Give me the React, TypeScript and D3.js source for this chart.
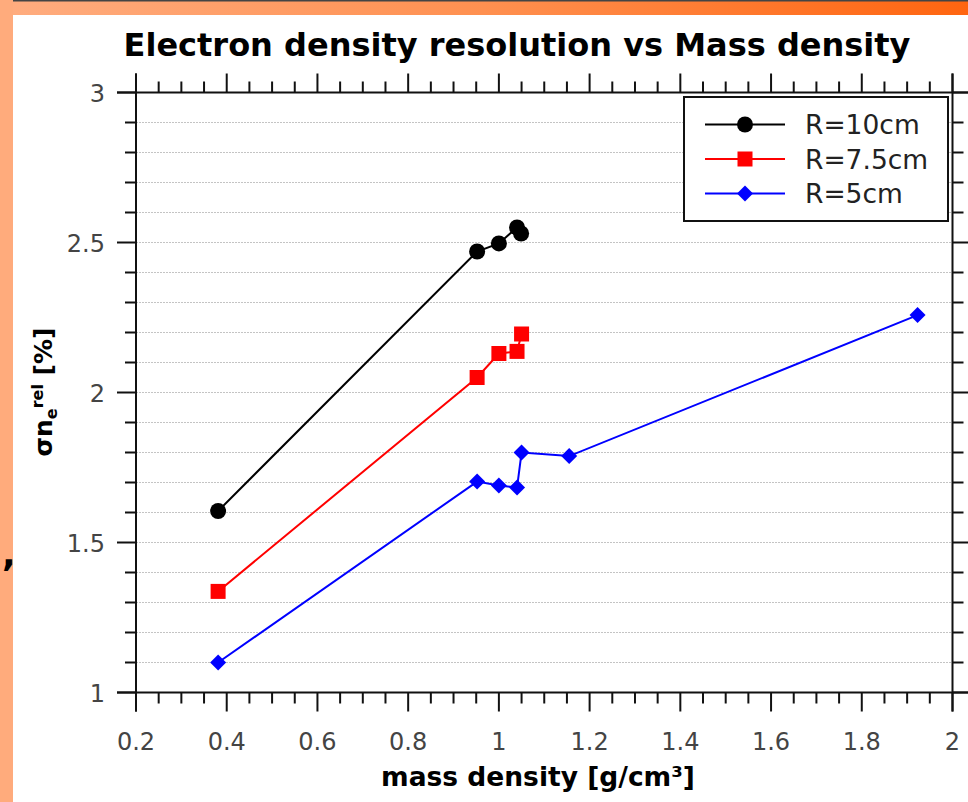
import React from "react";
import * as d3 from "d3";

const massDensity10 = [0.381, 0.952, 1.0, 1.04, 1.049];
const sigma10 = [1.605, 2.47, 2.497, 2.55, 2.53];

const massDensity75 = [0.381, 0.952, 1.0, 1.04, 1.05];
const sigma75 = [1.337, 2.05, 2.13, 2.137, 2.195];

const massDensity5 = [0.381, 0.952, 1.0, 1.04, 1.05, 1.155, 1.923];
const sigma5 = [1.1, 1.703, 1.69, 1.683, 1.8, 1.788, 2.258];

const seriesNames = ["R=10cm", "R=7.5cm", "R=5cm"];
const seriesColors = ["#000000", "#ff0000", "#0000ff"];
const seriesMarkers = ["circle", "square", "diamond"];

const xMajorTicks = [0.2, 0.4, 0.6, 0.8, 1, 1.2, 1.4, 1.6, 1.8, 2];
const yMajorTicks = [1, 1.5, 2, 2.5, 3];
const xTickLabels = ["0.2", "0.4", "0.6", "0.8", "1", "1.2", "1.4", "1.6", "1.8", "2"];
const yTickLabels = ["1", "1.5", "2", "2.5", "3"];

const W = 968;
const H = 802;
const FONT = "'DejaVu Sans', sans-serif";

function Marker({ type, x, y, color }: { type: string; x: number; y: number; color: string }) {
  if (type === "circle") return <circle cx={x} cy={y} r={8} fill={color} />;
  if (type === "square") return <rect x={x - 7.5} y={y - 7.5} width={15} height={15} fill={color} />;
  const s = 8;
  return <path d={`M${x},${y - s}L${x + s},${y}L${x},${y + s}L${x - s},${y}Z`} fill={color} />;
}

export default function App() {
  const x = d3.scaleLinear().domain([0.2, 2]).range([136, 952.5]);
  const y = d3.scaleLinear().domain([1, 3]).range([692.5, 92.5]);

  const xMinor = d3.range(0, 37).map((i) => 0.2 + i * 0.05).filter((v) => Math.abs(Math.round(v * 5) - v * 5) > 1e-6);
  const yMinor = d3.range(0, 21).map((i) => 1 + i * 0.1).filter((v) => Math.abs(Math.round(v * 2) - v * 2) > 1e-6);
  const gridY = d3.range(1, 20).map((i) => 1 + i * 0.1);

  const series = [
    { xs: massDensity10, ys: sigma10 },
    { xs: massDensity75, ys: sigma75 },
    { xs: massDensity5, ys: sigma5 },
  ];
  const line = d3
    .line<[number, number]>()
    .x((d) => x(d[0]))
    .y((d) => y(d[1]));

  const axisColor = "#111";
  const left = x(0.2);
  const right = x(2);
  const top = y(3);
  const bottom = y(1);

  return (
    <svg
      width={W}
      height={H}
      style={{ position: "absolute", left: 0, top: 0, background: "#fff" }}
      fontFamily={FONT}
    >
      <defs>
        <linearGradient id="topbar" x1="0" x2="1" y1="0" y2="0">
          <stop offset="0" stopColor="#ffad80" />
          <stop offset="0.5" stopColor="#ff9050" />
          <stop offset="1" stopColor="#ff6510" />
        </linearGradient>
      </defs>
      <rect x={0} y={0} width={W} height={H} fill="#fff" />
      <rect x={0} y={0} width={W} height={15} fill="url(#topbar)" />
      <rect x={0} y={0} width={W} height={1.5} fill="#444" />
      <rect x={0} y={0} width={13} height={H} fill="#ffab7c" />
      <text x={2} y={566} fontSize={36} fontWeight="bold" fill="#000">,</text>

      {/* title */}
      <text x={517} y={56} textAnchor="middle" fontSize={32} fontWeight="bold" fill="#000">
        Electron density resolution vs Mass density
      </text>

      {/* grid */}
      {gridY.map((v, i) => (
        <line key={"g" + i} x1={left} x2={right} y1={y(v)} y2={y(v)} stroke="#c4c4c4" strokeWidth={1} strokeDasharray="2,1" />
      ))}

      {/* axes frame */}
      <line x1={left - 19} x2={right + 19} y1={top} y2={top} stroke={axisColor} strokeWidth={2} />
      <line x1={left - 19} x2={right + 19} y1={bottom} y2={bottom} stroke={axisColor} strokeWidth={2} />
      <line x1={left} x2={left} y1={top - 19} y2={bottom + 19} stroke={axisColor} strokeWidth={2} />
      <line x1={right} x2={right} y1={top - 19} y2={bottom + 19} stroke={axisColor} strokeWidth={2} />

      {/* x ticks */}
      {xMajorTicks.map((v, i) => (
        <g key={"xm" + i}>
          <line x1={x(v)} x2={x(v)} y1={bottom} y2={bottom + 19} stroke={axisColor} strokeWidth={2} />
          <line x1={x(v)} x2={x(v)} y1={top} y2={top - 19} stroke={axisColor} strokeWidth={2} />
          <text x={x(v)} y={750} textAnchor="middle" fontSize={24} fill="#444">
            {xTickLabels[i]}
          </text>
        </g>
      ))}
      {xMinor.map((v, i) => (
        <g key={"xn" + i}>
          <line x1={x(v)} x2={x(v)} y1={bottom} y2={bottom + 11} stroke={axisColor} strokeWidth={2} />
          <line x1={x(v)} x2={x(v)} y1={top} y2={top - 11} stroke={axisColor} strokeWidth={2} />
        </g>
      ))}

      {/* y ticks */}
      {yMajorTicks.map((v, i) => (
        <g key={"ym" + i}>
          <line x1={left} x2={left - 19} y1={y(v)} y2={y(v)} stroke={axisColor} strokeWidth={2} />
          <line x1={right} x2={right + 19} y1={y(v)} y2={y(v)} stroke={axisColor} strokeWidth={2} />
          <text x={105} y={y(v) + 9} textAnchor="end" fontSize={24} fill="#444">
            {yTickLabels[i]}
          </text>
        </g>
      ))}
      {yMinor.map((v, i) => (
        <g key={"yn" + i}>
          <line x1={left} x2={left - 11} y1={y(v)} y2={y(v)} stroke={axisColor} strokeWidth={2} />
          <line x1={right} x2={right + 11} y1={y(v)} y2={y(v)} stroke={axisColor} strokeWidth={2} />
        </g>
      ))}

      {/* axis titles */}
      <text x={538} y={786} textAnchor="middle" fontSize={26.5} fontWeight="bold" fill="#000">
        mass density [g/cm³]
      </text>
      <text transform="translate(52,392) rotate(-90)" textAnchor="middle" fontSize={25} fontWeight="bold" fill="#000">
        σn
        <tspan fontSize={16} dy={5}>e</tspan>
        <tspan fontSize={16} dy={-14}>rel</tspan>
        <tspan dy={9}> [%]</tspan>
      </text>

      {/* series */}
      {series.map((s, k) => {
        const pts: [number, number][] = s.xs.map((v, i) => [v, s.ys[i]]);
        return (
          <g key={"s" + k}>
            <path d={line(pts) || ""} fill="none" stroke={seriesColors[k]} strokeWidth={2} />
            {pts.map((p, i) => (
              <Marker key={i} type={seriesMarkers[k]} x={x(p[0])} y={y(p[1])} color={seriesColors[k]} />
            ))}
          </g>
        );
      })}

      {/* legend */}
      <rect x={684} y={97} width={264} height={124} fill="#fff" stroke="#111" strokeWidth={2} />
      {seriesNames.map((name, k) => {
        const ly = 124.5 + k * 34.5;
        return (
          <g key={"l" + k}>
            <line x1={705} x2={785} y1={ly} y2={ly} stroke={seriesColors[k]} strokeWidth={2} />
            <Marker type={seriesMarkers[k]} x={745} y={ly} color={seriesColors[k]} />
            <text x={805} y={ly + 9.5} fontSize={26.5} fill="#222">
              {name}
            </text>
          </g>
        );
      })}
    </svg>
  );
}
